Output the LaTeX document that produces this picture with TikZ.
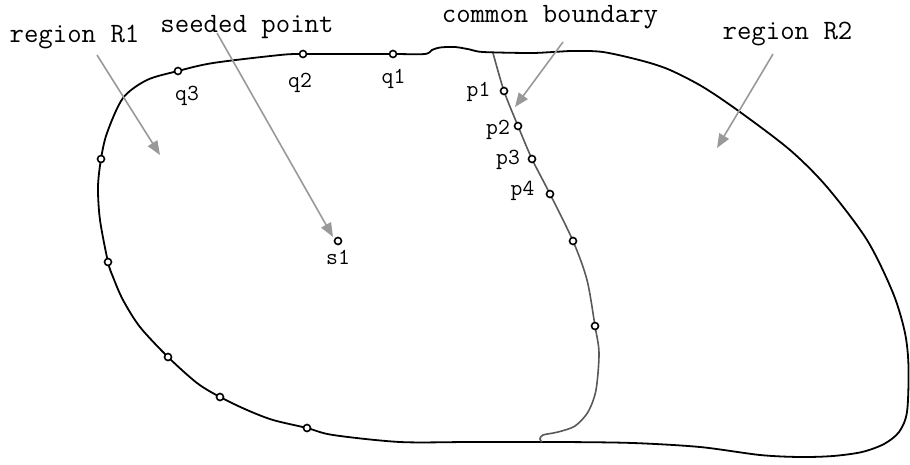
\documentclass[tikz,border=0pt]{standalone}
\usepackage{fontspec}
\usetikzlibrary{arrows.meta}
\tikzset{
  mk/.style={circle, draw=black, fill=white, inner sep=0pt, minimum size=7pt, line width=1.6pt},
  biglbl/.style={font=\ttfamily\fontsize{28}{30}\selectfont, inner sep=0pt, anchor=base},
  smalllbl/.style={font=\ttfamily\fontsize{23}{25}\selectfont, inner sep=0pt, anchor=base},
  outline/.style={line width=1.8pt, black},
  cb/.style={line width=1.6pt, black!65},
  pointer/.style={draw=black!40, line width=1.6pt, -{Triangle[length=14pt,width=11pt]}, color=black!40},
}
\begin{document}
\begin{tikzpicture}[x=1pt,y=-1pt]
\useasboundingbox (0,0) rectangle (910,464);
% outer outline
\draw[outline] plot[smooth cycle, tension=0.5] coordinates {
(393,54) (425,54) (432,50) (440,47.5) (455,47) (470,49.5) (483,52) (530,53) (553,52) (573,51) (603,52)
(643,61) (670,70) (703,87) (740,112) (790,150) (827,187) (867,240) (893,293)
(905,333) (908.5,367) (907,412) (899,432) (884,444) (862,452) (833,456) (800,457)
(760,455) (700,447) (633,443) (560,442) (470,442) (400,442) (333,435) (307,428)
(273,420) (247,410) (220,397) (197,383) (168,357) (140,327) (123,300) (113,277)
(108,262) (100,220) (98,187) (101,159) (107,133) (123,98) (147,80) (178,71)
(213,63) (280,55) (303,54) (350,54)};
% common boundary
\draw[cb] plot[smooth, tension=0.5] coordinates {
(493,53) (504,91) (518,126) (532,159) (550,194) (573,241) (587,280) (595,326)
(599,353) (596,390) (588,412) (575,426) (558,432) (543,435) (540,439) (542,442)};
% markers on outline
\node[mk] (q1) at (393,54) {};
\node[mk] (q2) at (303,54) {};
\node[mk] (q3) at (178,71) {};
\node[mk] (o1) at (101,159) {};
\node[mk] (o2) at (108,262) {};
\node[mk] (o3) at (168,357) {};
\node[mk] (o4) at (220,397) {};
\node[mk] (o5) at (307,428) {};
% markers on common boundary
\node[mk] (p1) at (504,91) {};
\node[mk] (p2) at (518,126) {};
\node[mk] (p3) at (532,159) {};
\node[mk] (p4) at (550,194) {};
\node[mk] (c5) at (573,241) {};
\node[mk] (c6) at (595,326) {};
% seeded point
\node[mk] (s1) at (338,241) {};
% small labels
\node[smalllbl] (lq1) at (393.5,83) {q1};
\node[smalllbl] (lq2) at (300,87) {q2};
\node[smalllbl] (lq3) at (187,100) {q3};
\node[smalllbl] (lp1) at (478.5,96) {p1};
\node[smalllbl] (lp2) at (498,134) {p2};
\node[smalllbl] (lp3) at (508,164) {p3};
\node[smalllbl] (lp4) at (522.5,195) {p4};
\node[smalllbl] (ls1) at (338,264) {s1};
% big labels
\node[biglbl] (r1) at (74.5,42) {region R1};
\node[biglbl] (sp) at (247,32) {seeded point};
\node[biglbl] (cbl) at (550,22) {common boundary};
\node[biglbl] (r2) at (787.5,39) {region R2};
% pointer ends
\coordinate (a1s) at (97,55);
\coordinate (a1e) at (160,155);
\coordinate (a2s) at (217,33);
\coordinate (a2e) at (333,237);
\coordinate (a3s) at (563,42);
\coordinate (a3e) at (515,107);
\coordinate (a4s) at (773,54);
\coordinate (a4e) at (717,148);
\draw[pointer] (a1s) -- (a1e);
\draw[pointer] (a2s) -- (a2e);
\draw[pointer] (a3s) -- (a3e);
\draw[pointer] (a4s) -- (a4e);
\end{tikzpicture}
\end{document}
